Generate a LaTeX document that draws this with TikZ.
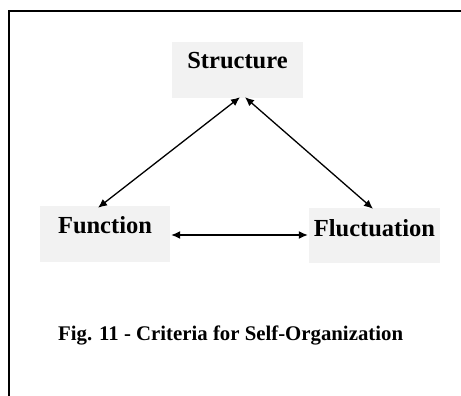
\documentclass[tikz,border=0pt]{standalone}
\usepackage{fontspec}
\setmainfont{Liberation Serif}
\usetikzlibrary{arrows.meta,calc}
\definecolor{boxgray}{HTML}{F2F2F2}
\begin{document}
\begin{tikzpicture}[x=1pt,y=-1pt,
  box/.style={fill=boxgray, inner sep=0pt, align=center, anchor=base,
    font=\bfseries\fontsize{24.5}{28}\selectfont},
  link/.style={line width=1.3pt,
    {Latex[length=9pt,width=8pt]}-{Latex[length=9pt,width=8pt]}},
  frame/.style={line width=2.2pt},
  caption/.style={font=\bfseries\fontsize{20.8}{24}\selectfont,
    inner sep=0pt, anchor=base west}]
\useasboundingbox (0,0) rectangle (461,396);
% open frame: left and top edges only
\draw[frame] (9.2,396) -- (9.2,11.2) -- (461,11.2);

% the three criteria
\node[box, text width=131pt, text height=27pt, text depth=29pt] (st) at (237.5,69) {Structure};
\node[box, text width=130pt, text height=27pt, text depth=29pt] (fn) at (105,233) {Function};
\node[box, text width=131pt, text height=28pt, text depth=27pt] (fl) at (374.5,236) {Fluctuation};

% mutual relations
\draw[link] ([xshift=2.5pt,yshift=1pt]st.south) -- ([xshift=-7pt,yshift=-2pt]fn.north);
\draw[link] ([xshift=7.5pt,yshift=1pt]st.south) -- ([xshift=-1.5pt,yshift=-1pt]fl.north);
\draw[link] ($(fn.east)+(1,1)$) -- ($(fn.east -| fl.west)+(-1,1)$);

\node[caption] (cap) at (58,340) {Fig. 11 - Criteria for Self-Organization};
\end{tikzpicture}
\end{document}
